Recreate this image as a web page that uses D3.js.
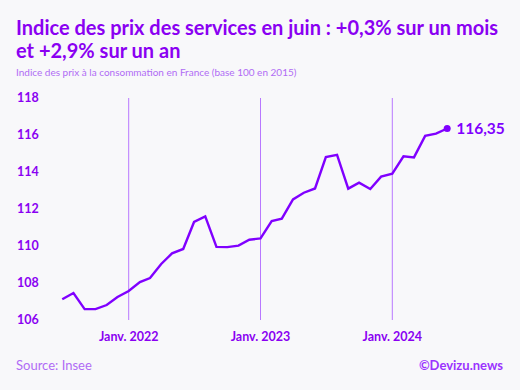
<!DOCTYPE html>
<html>
<head>
<meta charset="utf-8">
<script src="https://cdn.jsdelivr.net/npm/d3@7"></script>
<style>
  body { margin: 0; background: #f8f8fa; }
  svg { display: block; font-family: "Lato", "Noto Sans", sans-serif; }
</style>
</head>
<body>
<div class="chart"></div>
<script>
// Indice des prix des services, juillet 2021 - juin 2024

var months = ["2021-07", "2021-08", "2021-09", "2021-10", "2021-11", "2021-12",
  "2022-01", "2022-02", "2022-03", "2022-04", "2022-05", "2022-06",
  "2022-07", "2022-08", "2022-09", "2022-10", "2022-11", "2022-12",
  "2023-01", "2023-02", "2023-03", "2023-04", "2023-05", "2023-06",
  "2023-07", "2023-08", "2023-09", "2023-10", "2023-11", "2023-12",
  "2024-01", "2024-02", "2024-03", "2024-04", "2024-05", "2024-06"];

var values = [107.12, 107.46, 106.59, 106.59, 106.81, 107.24,
  107.57, 108.05, 108.27, 109.03, 109.6, 109.84,
  111.3, 111.6, 109.95, 109.94, 110.02, 110.34,
  110.41, 111.35, 111.48, 112.52, 112.88, 113.11,
  114.81, 114.93, 113.1, 113.42, 113.08, 113.75,
  113.91, 114.85, 114.79, 115.95, 116.07, 116.35];

var yTicks = [106, 108, 110, 112, 114, 116, 118];
var xTicks = ["2022-01", "2023-01", "2024-01"];
var xTickLabels = ["Janv. 2022", "Janv. 2023", "Janv. 2024"];

var svgWidth = 520;
var svgHeight = 390;

var parseMonth = d3.timeParse("%Y-%m");

var data = months.map(function(m, i) {
  return { date: parseMonth(m), value: values[i] };
});

var svg = d3.select(".chart")
  .append("svg")
  .attr("width", svgWidth)
  .attr("height", svgHeight);

svg.append("rect")
  .attr("width", svgWidth)
  .attr("height", svgHeight)
  .attr("fill", "#f8f8fa");

// scales
var xScale = d3.scaleTime()
  .domain([parseMonth("2022-01"), parseMonth("2024-01")])
  .range([128.7, 392.3]);

var yScale = d3.scaleLinear()
  .domain([106, 118])
  .range([320, 98]);

// title
var title = svg.append("text")
  .attr("x", 16)
  .attr("y", 35)
  .attr("fill", "#8a00f2")
  .style("font-size", "20px")
  .style("font-weight", 700);
var line1 = title.append("tspan").attr("x", 16).attr("dy", 0)
  .text("Indice des prix des services en juin : +0,3% sur un mois");
title.append("tspan").attr("x", 16).attr("dy", 22.5)
  .text("et +2,9% sur un an");

// shrink the title if it runs past the right edge
var w1 = line1.node().getComputedTextLength();
if (w1 > 484) {
  title.style("font-size", (20 * 484 / w1) + "px");
}

svg.append("text")
  .attr("x", 16)
  .attr("y", 76)
  .attr("fill", "#b06cf5")
  .style("font-size", "10px")
  .text("Indice des prix à la consommation en France (base 100 en 2015)");

// y axis labels
svg.append("g")
  .selectAll("text")
  .data(yTicks)
  .enter()
  .append("text")
  .attr("x", 17)
  .attr("y", d => yScale(d))
  .attr("dy", "0.35em")
  .attr("fill", "#8a00f2")
  .style("font-size", "12.5px")
  .style("font-weight", 700)
  .text(d => d);

// vertical year lines
svg.append("g")
  .selectAll("line")
  .data(xTicks)
  .enter()
  .append("line")
  .attr("x1", d => xScale(parseMonth(d)))
  .attr("x2", d => xScale(parseMonth(d)))
  .attr("y1", yScale(118))
  .attr("y2", yScale(106))
  .attr("stroke", "#b878ff")
  .attr("stroke-width", 1);

// x labels
svg.append("g")
  .selectAll("text")
  .data(xTicks)
  .enter()
  .append("text")
  .attr("x", d => xScale(parseMonth(d)))
  .attr("y", 341)
  .attr("text-anchor", "middle")
  .attr("fill", "#8a00f2")
  .style("font-size", "12.5px")
  .style("font-weight", 700)
  .text((d, i) => xTickLabels[i]);

// line
var line = d3.line()
  .x(d => xScale(d.date))
  .y(d => yScale(d.value));

svg.append("path")
  .datum(data)
  .attr("d", line)
  .attr("fill", "none")
  .attr("stroke", "#8000ff")
  .attr("stroke-width", 2.4)
  .attr("stroke-linejoin", "miter");

var last = data[data.length - 1];

svg.append("circle")
  .attr("cx", xScale(last.date))
  .attr("cy", yScale(last.value))
  .attr("r", 3.5)
  .attr("fill", "#8000ff");

svg.append("text")
  .attr("x", xScale(last.date) + 9)
  .attr("y", yScale(last.value))
  .attr("dy", "0.35em")
  .attr("fill", "#8000ff")
  .style("font-size", "15.5px")
  .style("font-weight", 700)
  .text(d3.format(".2f")(last.value).replace(".", ","));

// footer
svg.append("text")
  .attr("x", 16)
  .attr("y", 370)
  .attr("fill", "#b06cf5")
  .style("font-size", "13px")
  .text("Source: Insee");

svg.append("text")
  .attr("x", 503)
  .attr("y", 370)
  .attr("text-anchor", "end")
  .attr("fill", "#9b33ff")
  .style("font-size", "13px")
  .style("font-weight", 700)
  .text("©Devizu.news");
</script>
</body>
</html>
